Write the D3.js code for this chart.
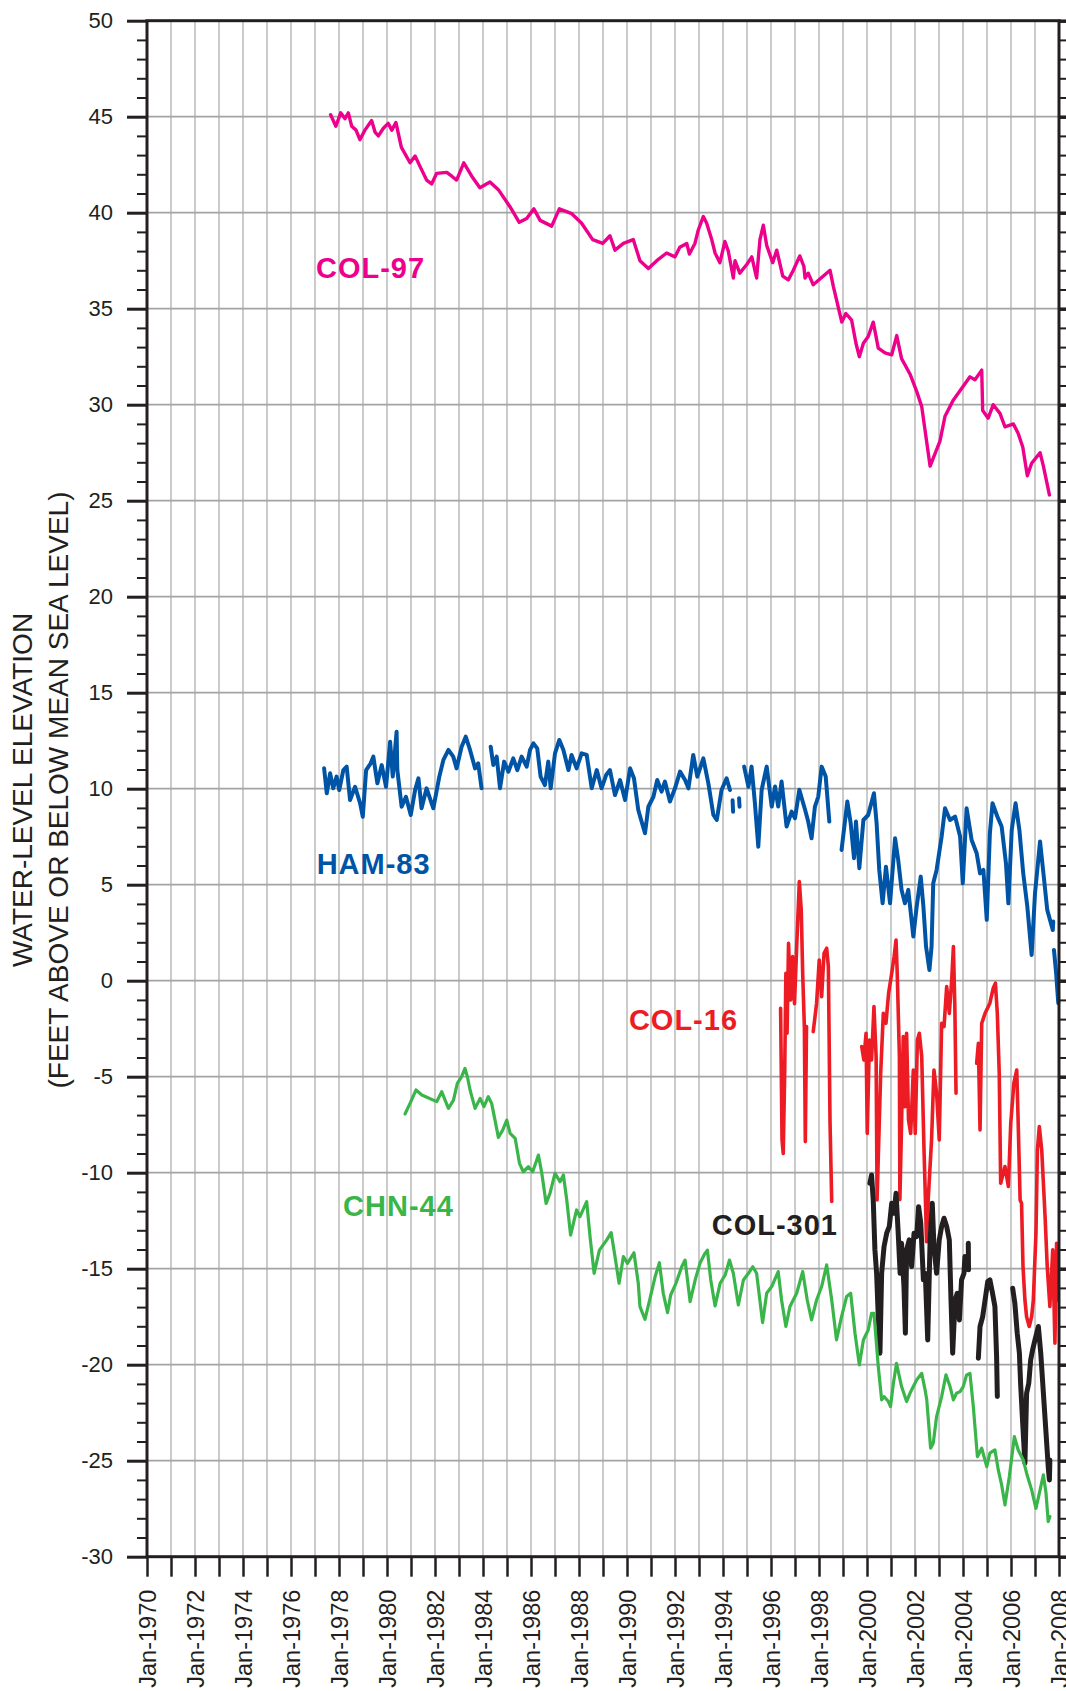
<!DOCTYPE html>
<html>
<head>
<meta charset="utf-8">
<script src="https://cdn.jsdelivr.net/npm/d3@7"></script>
<style>
  body { margin: 0; background: #fff; }
  svg { display: block; font-family: "Liberation Sans", Arial, sans-serif; }
</style>
</head>
<body>
<script>
// Water-level hydrographs, decimal year vs elevation (ft); null = data gap

var col97 = [
  [1977.65,45.1],[1977.87,44.5],[1978.07,45.2],[1978.25,44.9],[1978.39,45.2],[1978.53,44.5],
  [1978.71,44.3],[1978.87,43.8],[1979.08,44.3],[1979.36,44.8],[1979.5,44.2],[1979.64,44.0],
  [1979.85,44.4],[1980.05,44.65],[1980.2,44.3],[1980.37,44.7],[1980.6,43.4],[1980.96,42.6],
  [1981.17,42.95],[1981.38,42.4],[1981.65,41.7],[1981.86,41.5],[1982.07,42.05],[1982.49,42.1],
  [1982.7,41.9],[1982.9,41.7],[1983.2,42.6],[1983.53,41.9],[1983.87,41.3],[1984.29,41.6],
  [1984.64,41.2],[1985.13,40.3],[1985.51,39.5],[1985.82,39.7],[1986.12,40.2],[1986.38,39.6],
  [1986.86,39.3],[1987.18,40.2],[1987.7,39.95],[1988.11,39.45],[1988.57,38.6],[1988.99,38.4],
  [1989.29,38.8],[1989.5,38.05],[1989.85,38.4],[1990.26,38.6],[1990.54,37.5],[1990.89,37.1],
  [1991.24,37.5],[1991.65,37.9],[1992.0,37.7],[1992.2,38.2],[1992.49,38.4],[1992.6,37.85],
  [1992.83,38.4],[1992.97,39.1],[1993.18,39.8],[1993.32,39.45],[1993.53,38.6],[1993.67,37.9],
  [1993.87,37.4],[1994.08,38.5],[1994.22,38.0],[1994.43,36.6],[1994.5,37.5],[1994.7,36.85],
  [1994.99,37.3],[1995.2,37.7],[1995.4,36.6],[1995.54,38.6],[1995.68,39.35],[1995.82,38.3],
  [1996.07,37.4],[1996.24,38.05],[1996.49,36.7],[1996.72,36.5],[1996.93,37.0],[1997.2,37.75],
  [1997.37,37.2],[1997.42,36.6],[1997.55,36.85],[1997.76,36.25],[1998.46,37.0],[1998.6,36.15],
  [1998.95,34.3],[1999.12,34.75],[1999.36,34.4],[1999.54,33.2],[1999.68,32.5],[1999.85,33.2],
  [2000.05,33.55],[2000.26,34.3],[2000.47,32.95],[2000.75,32.7],[2001.03,32.6],[2001.24,33.6],
  [2001.44,32.4],[2001.79,31.6],[2002.07,30.7],[2002.28,29.9],[2002.63,26.8],[2003.04,28.1],
  [2003.25,29.4],[2003.6,30.25],[2004.29,31.45],[2004.5,31.3],[2004.78,31.8],[2004.82,29.7],
  [2005.05,29.3],[2005.26,30.0],[2005.54,29.55],[2005.75,28.85],[2006.1,29.0],[2006.3,28.5],
  [2006.49,27.8],[2006.68,26.3],[2006.86,26.95],[2007.21,27.5],[2007.35,26.8],[2007.6,25.3]
];

var ham83 = [
  [1977.38,11.06],[1977.49,9.76],[1977.63,10.8],[1977.76,10.02],[1977.9,10.63],[1978.01,9.93],
  [1978.18,10.97],[1978.32,11.15],[1978.46,9.41],[1978.67,10.1],[1978.88,9.24],[1978.99,8.54],
  [1979.13,10.97],[1979.32,11.32],[1979.43,11.67],[1979.6,10.28],[1979.78,11.23],[1979.96,10.1],
  [1980.13,12.45],[1980.24,10.63],[1980.4,12.97],[1980.43,10.97],[1980.61,9.06],[1980.79,9.58],
  [1980.99,8.63],[1981.17,9.93],[1981.31,10.54],[1981.44,8.98],[1981.65,10.02],[1981.93,8.98],
  [1982.18,10.63],[1982.35,11.5],[1982.56,12.02],[1982.76,11.67],[1982.9,11.06],[1983.11,12.19],
  [1983.28,12.71],[1983.46,12.02],[1983.67,11.06],[1983.8,11.32],[1983.94,10.02],null,
  [1984.32,12.19],[1984.43,11.23],[1984.57,11.67],[1984.71,10.02],[1984.88,11.41],[1985.06,10.89],
  [1985.26,11.58],[1985.43,10.97],[1985.61,11.67],[1985.82,11.15],[1985.96,12.02],[1986.1,12.36],
  [1986.26,12.1],[1986.4,10.63],[1986.58,10.19],[1986.72,11.41],[1986.82,10.02],[1987.0,11.84],
  [1987.18,12.54],[1987.35,12.02],[1987.56,10.97],[1987.69,11.76],[1987.9,11.06],[1988.11,11.84],
  [1988.32,11.76],[1988.53,10.02],[1988.74,10.97],[1988.94,10.02],[1989.13,10.71],[1989.29,10.97],
  [1989.5,9.67],[1989.71,10.45],[1989.92,9.41],[1990.13,11.06],[1990.29,10.54],[1990.47,8.89],
  [1990.61,8.28],[1990.75,7.68],[1990.89,9.06],[1991.1,9.58],[1991.26,10.45],[1991.44,9.85],
  [1991.58,10.37],[1991.79,9.33],[1992.0,10.02],[1992.21,10.89],[1992.42,10.45],[1992.56,10.02],
  [1992.76,11.76],[1992.93,10.63],[1993.18,11.58],[1993.39,10.28],[1993.6,8.63],[1993.74,8.37],
  [1993.94,9.93],[1994.15,10.54],[1994.29,9.93],null,[1994.4,9.4],[1994.42,8.8],null,
  [1994.67,9.5],[1994.69,9.06],null,
  [1994.88,11.15],[1995.06,10.1],[1995.19,11.15],[1995.33,9.24],[1995.47,6.98],[1995.61,9.93],
  [1995.82,11.15],[1996.03,9.07],[1996.17,10.11],[1996.3,9.07],[1996.44,10.37],[1996.65,8.03],
  [1996.86,8.81],[1997.0,8.46],[1997.18,9.94],[1997.42,8.9],[1997.55,8.29],[1997.69,7.42],
  [1997.83,9.07],[1997.97,9.59],[1998.11,11.15],[1998.28,10.63],[1998.43,8.29],null,
  [1998.94,6.81],[1999.18,9.33],[1999.32,8.2],[1999.46,6.38],[1999.54,8.29],[1999.68,5.86],
  [1999.85,8.37],[2000.05,8.63],[2000.29,9.76],[2000.4,8.2],[2000.51,5.77],[2000.65,4.03],
  [2000.79,5.94],[2000.96,4.03],[2001.17,7.42],[2001.3,6.29],[2001.44,4.73],[2001.58,4.03],
  [2001.72,4.73],[2001.93,2.3],[2002.07,3.86],[2002.24,5.42],[2002.35,3.86],[2002.46,1.78],
  [2002.6,0.56],[2002.69,1.78],[2002.76,5.07],[2002.9,5.77],[2003.11,7.51],[2003.25,8.98],
  [2003.46,8.37],[2003.67,8.55],[2003.88,7.51],[2003.99,5.07],[2004.15,8.98],[2004.36,7.33],
  [2004.57,6.64],[2004.71,5.59],[2004.85,5.77],[2004.99,3.17],[2005.12,7.68],[2005.23,9.24],
  [2005.43,8.55],[2005.61,8.03],[2005.79,6.12],[2005.89,4.03],[2006.03,7.85],[2006.19,9.24],
  [2006.35,7.85],[2006.51,5.59],[2006.68,3.86],[2006.86,1.34],[2007.0,4.55],[2007.21,7.25],
  [2007.38,5.25],[2007.51,3.69],[2007.74,2.64],[2007.76,3.08],null,
  [2007.79,1.6],[2007.88,0.4],[2007.97,-1.17]
];

var col16 = [
  [1996.4,-1.44],[1996.46,-8.3],[1996.51,-9.0],[1996.57,-4.8],[1996.62,0.39],[1996.67,-2.74],
  [1996.73,1.95],[1996.82,-1.0],[1996.9,1.26],[1996.98,-1.2],[1997.07,1.78],[1997.18,5.16],
  [1997.26,3.69],[1997.32,0.39],[1997.39,-2.39],[1997.43,-8.38],[1997.48,-2.39],null,
  [1997.76,-2.65],[1997.9,-1.17],[1998.01,1.08],[1998.11,-0.83],[1998.21,1.43],[1998.32,1.69],
  [1998.39,0.73],[1998.46,-7.43],[1998.53,-11.5],null,
  [1999.78,-3.43],[1999.87,-4.13],[1999.96,-2.74],[2000.01,-7.95],[2000.1,-3.09],[2000.19,-4.13],
  [2000.29,-1.35],[2000.38,-3.95],[2000.42,-11.42],[2000.57,-4.82],[2000.68,-1.7],[2000.79,-2.22],
  [2000.9,-0.65],[2001.03,0.39],[2001.13,1.26],[2001.21,2.12],[2001.26,0.39],[2001.35,-3.95],
  [2001.37,-11.4],[2001.44,-7.43],[2001.51,-2.91],[2001.58,-6.56],[2001.65,-2.74],[2001.73,-7.25],
  [2001.82,-7.95],[2001.93,-4.65],[2002.01,-7.95],[2002.1,-3.09],[2002.18,-2.74],[2002.28,-3.95],
  [2002.38,-9.0],[2002.43,-11.2],[2002.48,-13.6],[2002.55,-11.4],[2002.69,-8.29],[2002.79,-4.65],
  [2002.9,-5.86],[2003.01,-8.29],[2003.11,-2.22],[2003.21,-2.39],[2003.32,-0.31],[2003.43,-1.7],
  [2003.53,0.04],[2003.6,1.78],[2003.66,-1.35],[2003.71,-5.86],null,
  [2004.57,-4.3],[2004.64,-3.26],[2004.71,-7.77],[2004.78,-2.22],[2004.92,-1.7],[2005.12,-1.17],
  [2005.26,-0.39],[2005.35,-0.13],[2005.43,-1.7],[2005.51,-4.82],[2005.57,-10.55],[2005.75,-9.68],
  [2005.89,-10.72],[2005.99,-7.43],[2006.12,-5.34],[2006.24,-4.65],[2006.3,-7.43],[2006.38,-11.42],
  [2006.44,-11.6],[2006.5,-14.89],[2006.58,-16.63],[2006.65,-17.5],[2006.76,-18.01],[2006.86,-17.5],
  [2006.93,-16.63],[2007.04,-13.15],[2007.1,-8.81],[2007.18,-7.6],[2007.28,-8.81],[2007.35,-10.55],
  [2007.42,-12.29],[2007.51,-14.89],[2007.62,-16.97],[2007.74,-14.02],[2007.83,-18.88],[2007.9,-13.68],
  [2007.97,-16.63]
];

var col301 = [
  [2000.12,-10.55],[2000.19,-10.12],[2000.26,-11.42],[2000.33,-14.02],[2000.4,-15.24],[2000.47,-17.5],
  [2000.54,-19.4],[2000.61,-15.24],[2000.71,-13.85],[2000.82,-13.15],[2000.93,-12.8],[2001.03,-11.59],
  [2001.13,-12.11],[2001.21,-11.07],[2001.3,-13.15],[2001.38,-15.24],[2001.44,-13.68],[2001.54,-15.93],
  [2001.6,-18.36],[2001.65,-14.02],[2001.76,-13.5],[2001.86,-14.89],[2001.96,-13.15],[2002.07,-13.33],
  [2002.15,-11.77],[2002.24,-12.63],[2002.35,-15.58],[2002.43,-15.24],[2002.53,-18.71],[2002.63,-13.5],
  [2002.72,-11.59],[2002.79,-13.85],[2002.9,-15.24],[2003.01,-13.5],[2003.11,-12.8],[2003.21,-12.37],
  [2003.32,-12.8],[2003.43,-13.5],[2003.5,-16.63],[2003.57,-19.4],[2003.67,-16.63],[2003.76,-16.28],
  [2003.85,-17.67],[2003.94,-15.58],[2004.04,-15.24],[2004.08,-14.37],null,
  [2004.22,-13.68],[2004.23,-15.06],null,
  [2004.64,-19.66],[2004.71,-18.01],[2004.82,-17.5],[2004.92,-16.63],[2005.03,-15.67],[2005.12,-15.58],
  [2005.23,-16.28],[2005.33,-16.97],[2005.4,-19.58],[2005.43,-21.66],null,
  [2006.07,-16.02],[2006.16,-16.8],[2006.26,-18.36],[2006.35,-19.4],[2006.4,-20.97],[2006.48,-22.88],
  [2006.58,-25.13],[2006.65,-21.49],[2006.74,-20.97],[2006.82,-19.75],[2006.9,-19.23],[2007.0,-18.71],
  [2007.14,-18.01],[2007.24,-19.4],[2007.35,-21.49],[2007.46,-23.57],[2007.55,-25.3],[2007.6,-26.0],
  [2007.62,-24.96]
];

var chn44 = [
  [1980.75,-6.94],[1980.96,-6.39],[1981.21,-5.69],[1981.45,-5.95],[1982.07,-6.3],[1982.28,-5.78],
  [1982.42,-6.22],[1982.56,-6.65],[1982.77,-6.22],[1982.93,-5.35],[1983.11,-5.0],[1983.25,-4.57],
  [1983.35,-5.0],[1983.46,-5.69],[1983.67,-6.65],[1983.88,-6.13],[1984.04,-6.56],[1984.22,-6.04],
  [1984.36,-6.39],[1984.5,-7.26],[1984.64,-8.16],[1984.82,-7.78],[1984.99,-7.26],[1985.13,-7.95],
  [1985.34,-8.21],[1985.52,-9.51],[1985.68,-9.95],[1985.89,-9.69],[1986.07,-9.95],[1986.31,-9.08],
  [1986.45,-10.03],[1986.63,-11.6],[1986.79,-11.08],[1987.0,-10.03],[1987.21,-10.47],[1987.35,-10.12],
  [1987.49,-11.42],[1987.65,-13.25],[1987.9,-11.94],[1988.04,-12.29],[1988.32,-11.51],[1988.46,-13.33],
  [1988.63,-15.24],[1988.85,-14.03],[1989.15,-13.51],[1989.34,-13.12],[1989.5,-14.37],[1989.67,-15.76],
  [1989.85,-14.37],[1990.02,-14.72],[1990.29,-14.17],[1990.47,-15.76],[1990.54,-16.98],[1990.75,-17.64],
  [1990.96,-16.55],[1991.17,-15.42],[1991.35,-14.69],[1991.51,-16.28],[1991.69,-17.29],[1991.82,-16.37],
  [1992.04,-15.76],[1992.28,-14.9],[1992.42,-14.55],[1992.63,-16.72],[1992.84,-15.59],[1993.04,-14.72],
  [1993.25,-14.2],[1993.35,-14.03],[1993.49,-15.59],[1993.67,-16.94],[1993.88,-15.76],[1994.09,-15.33],
  [1994.27,-14.55],[1994.43,-15.24],[1994.64,-16.89],[1994.85,-15.59],[1995.06,-15.24],[1995.24,-14.9],
  [1995.4,-15.24],[1995.65,-17.81],[1995.82,-16.28],[1996.03,-15.93],[1996.3,-15.15],[1996.44,-16.63],
  [1996.62,-18.01],[1996.79,-16.97],[1997.07,-16.28],[1997.32,-15.15],[1997.51,-16.63],[1997.69,-17.67],
  [1997.9,-16.63],[1998.11,-15.93],[1998.32,-14.8],[1998.53,-16.63],[1998.73,-18.71],[1998.94,-17.5],
  [1999.15,-16.45],[1999.32,-16.28],[1999.5,-18.36],[1999.68,-20.01],[1999.85,-18.71],[2000.05,-18.19],
  [2000.19,-17.32],[2000.29,-17.32],[2000.38,-18.71],[2000.47,-20.1],[2000.61,-21.83],[2000.71,-21.66],
  [2000.89,-21.92],[2000.98,-22.18],[2001.1,-20.97],[2001.23,-19.93],[2001.44,-21.14],[2001.65,-21.92],
  [2001.79,-21.49],[2001.93,-21.14],[2002.07,-20.79],[2002.28,-20.45],[2002.42,-21.31],[2002.49,-21.83],
  [2002.65,-24.35],[2002.76,-24.09],[2002.9,-22.7],[2003.11,-21.66],[2003.29,-20.53],[2003.46,-21.14],
  [2003.6,-21.83],[2003.73,-21.49],[2003.88,-21.4],[2004.01,-21.14],[2004.15,-20.53],[2004.29,-20.45],
  [2004.43,-22.18],[2004.6,-24.79],[2004.78,-24.35],[2004.99,-25.31],[2005.12,-24.61],[2005.33,-24.44],
  [2005.47,-25.48],[2005.61,-26.26],[2005.75,-27.3],[2005.93,-25.83],[2006.14,-23.75],[2006.3,-24.44],
  [2006.51,-24.96],[2006.65,-25.65],[2006.86,-26.52],[2007.04,-27.48],[2007.18,-26.7],[2007.35,-25.74],
  [2007.46,-26.7],[2007.55,-28.17],[2007.62,-27.91]
];

var seriesNames = ["COL-97", "HAM-83", "COL-16", "COL-301", "CHN-44"];
var seriesData = [col97, ham83, col16, col301, chn44];
var seriesColors = ["#ec008c", "#0054a6", "#ed1c24", "#231f20", "#39b54a"];
var seriesWidths = [3.4, 4, 3.6, 5, 3.2];
// label baseline-left anchor (year, value) for each series name
var labelPos = [[1977.04, 36.6], [1977.07, 5.56], [1990.08, -2.57], [1993.53, -13.25], [1978.17, -12.26]];

var yTicks = d3.range(-30, 51, 5);
var xYears = d3.range(1970, 2009);

var W = 1066, H = 1691;
var x = d3.scaleLinear().domain([1970, 2008]).range([147, 1059]);
var y = d3.scaleLinear().domain([-30, 50]).range([1556.7, 20.7]);
var ink = "#231f20";

var svg = d3.select("body").append("svg")
    .attr("width", W)
    .attr("height", H);

// grid
svg.append("g").selectAll("line")
    .data(xYears.slice(1, -1))
    .enter().append("line")
    .attr("x1", function (d) { return x(d); })
    .attr("x2", function (d) { return x(d); })
    .attr("y1", y(50)).attr("y2", y(-30))
    .attr("stroke", "#c6c6c6").attr("stroke-width", 1.8);

svg.append("g").selectAll("line")
    .data(yTicks.slice(1, -1))
    .enter().append("line")
    .attr("x1", x(1970)).attr("x2", x(2008))
    .attr("y1", function (d) { return y(d); })
    .attr("y2", function (d) { return y(d); })
    .attr("stroke", "#a3a3a3").attr("stroke-width", 1.8);

// series
var line = d3.line()
    .defined(function (d) { return d !== null; })
    .x(function (d) { return x(d[0]); })
    .y(function (d) { return y(d[1]); });

seriesData.forEach(function (data, i) {
    svg.append("path")
        .datum(data)
        .attr("fill", "none")
        .attr("stroke", seriesColors[i])
        .attr("stroke-width", seriesWidths[i])
        .attr("stroke-linejoin", "round")
        .attr("stroke-linecap", "round")
        .attr("d", line);
});

seriesNames.forEach(function (name, i) {
    svg.append("text")
        .attr("x", x(labelPos[i][0]))
        .attr("y", y(labelPos[i][1]))
        .attr("fill", seriesColors[i])
        .style("font-size", "29px")
        .style("font-weight", "bold")
        .style("letter-spacing", "1px")
        .text(name);
});

// axes
function styleAxis(g, w) {
    g.select(".domain").remove();
    g.selectAll(".tick line").attr("stroke", ink).attr("stroke-width", w);
    g.selectAll("text").attr("fill", ink);
}

var minor = d3.range(-30, 51, 1).filter(function (d) { return d % 5 !== 0; });

svg.append("g")
    .attr("transform", "translate(" + x(1970) + ",0)")
    .call(d3.axisLeft(y).tickValues(minor).tickSize(10).tickFormat(""))
    .call(styleAxis, 2);

svg.append("g")
    .attr("transform", "translate(" + x(1970) + ",0)")
    .call(d3.axisLeft(y).tickValues(yTicks).tickSize(20).tickPadding(14)
        .tickFormat(function (d) { return String(d); }))
    .call(styleAxis, 3)
    .selectAll("text")
    .style("font-size", "22px");

svg.append("g")
    .attr("transform", "translate(" + x(2008) + ",0)")
    .call(d3.axisRight(y).tickValues(minor).tickSize(10).tickFormat(""))
    .call(styleAxis, 2);

svg.append("g")
    .attr("transform", "translate(" + x(2008) + ",0)")
    .call(d3.axisRight(y).tickValues(yTicks).tickSize(10).tickFormat(""))
    .call(styleAxis, 3.5);

var xAxis = d3.axisBottom(x)
    .tickValues(xYears)
    .tickSize(20)
    .tickPadding(0)
    .tickFormat(function (d) { return d % 2 === 0 ? "Jan-" + d : ""; });

svg.append("g")
    .attr("transform", "translate(0," + y(-30) + ")")
    .call(xAxis)
    .call(styleAxis, 2.5)
    .selectAll("text")
    .style("font-size", "23.5px")
    .attr("text-anchor", "end")
    .attr("x", 0)
    .attr("y", 0)
    .attr("dy", "0.35em")
    .attr("transform", "translate(0,33) rotate(-90)");

// frame
svg.append("rect")
    .attr("x", x(1970)).attr("y", y(50))
    .attr("width", x(2008) - x(1970))
    .attr("height", y(-30) - y(50))
    .attr("fill", "none")
    .attr("stroke", ink)
    .attr("stroke-width", 3);

// y title
var titleLines = ["WATER-LEVEL ELEVATION", "(FEET ABOVE OR BELOW MEAN SEA LEVEL)"];
titleLines.forEach(function (t, i) {
    svg.append("text")
        .attr("transform", "translate(" + (32 + i * 36) + ",790) rotate(-90)")
        .attr("text-anchor", "middle")
        .attr("fill", ink)
        .style("font-size", "28px")
        .text(t);
});
</script>
</body>
</html>
